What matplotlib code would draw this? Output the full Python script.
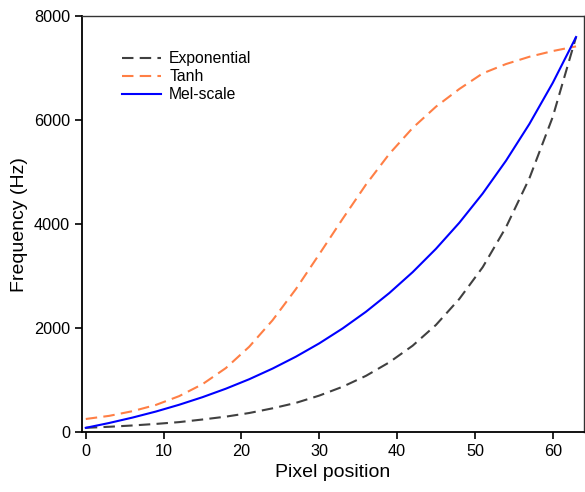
import matplotlib.pyplot as plt

plt.rcParams['font.family'] = ['Liberation Sans', 'DejaVu Sans']

# pixel index along the axis
pixel = [0, 3, 6, 9, 12, 15, 18, 21, 24, 27, 30,
         33, 36, 39, 42, 45, 48, 51, 54, 57, 60, 63]

# centre frequency (Hz) for each mapping
exponential = [80, 100, 125, 155, 190, 240, 295, 365, 455, 560, 700,
               870, 1080, 1340, 1660, 2060, 2560, 3170, 3940, 4880, 6060, 7600]
tanh = [250, 310, 400, 520, 690, 920, 1230, 1640, 2150, 2750, 3420,
        4100, 4760, 5350, 5850, 6260, 6600, 6900, 7080, 7220, 7330, 7420]
mel = [80, 173, 277, 393, 524, 670, 833, 1015, 1220, 1449, 1705,
       1992, 2313, 2673, 3075, 3525, 4026, 4588, 5220, 5926, 6716, 7600]

fig = plt.figure(figsize=(5.85, 4.92), dpi=100)
ax = fig.add_axes([0.140, 0.122, 0.858, 0.845])

ax.plot(pixel, exponential, color='#404040', lw=1.5, ls=(0, (5.5, 3)), label='Exponential')
ax.plot(pixel, tanh, color='#ff7f45', lw=1.5, ls=(0, (5.5, 3)), label='Tanh')
ax.plot(pixel, mel, color='#0000ff', lw=1.5, label='Mel-scale')

ax.set_xlim(-0.5, 64)
ax.set_ylim(0, 8000)
ax.set_xticks([0, 10, 20, 30, 40, 50, 60])
ax.set_yticks([0, 2000, 4000, 6000, 8000])
ax.tick_params(direction='out', length=5, width=1.2, labelsize=11.7)

for side in ['left', 'bottom']:
    ax.spines[side].set_linewidth(1.3)
for side in ['top', 'right']:
    ax.spines[side].set_linewidth(1.0)
    ax.spines[side].set_color('#333333')

ax.set_xlabel('Pixel position', fontsize=14)
ax.set_ylabel('Frequency (Hz)', fontsize=14)

ax.legend(loc='upper left', bbox_to_anchor=(0.052, 0.95), frameon=False,
          fontsize=11.3, handlelength=2.45, handletextpad=0.55, labelspacing=0.2)

fig.savefig('out.png', dpi=100)
